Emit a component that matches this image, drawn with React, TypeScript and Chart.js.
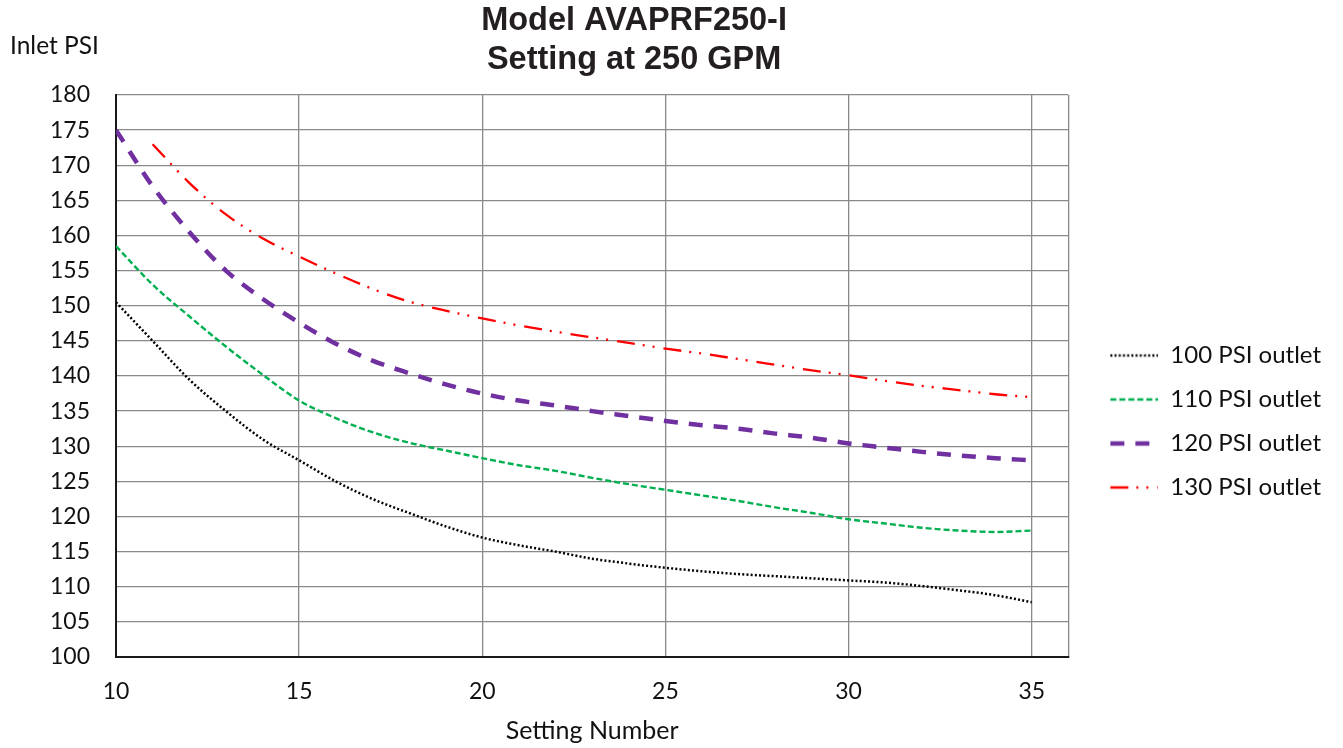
import { useEffect, useRef } from 'react';
import { Chart, registerables } from 'chart.js';

Chart.register(...registerables);

const settings = [10, 11, 12, 13, 14, 15, 16, 17, 18, 19, 20, 21, 22, 23, 24, 25, 26, 27, 28, 29, 30, 31, 32, 33, 34, 35];
const psi100 = [150.5, 145, 139.5, 135, 131, 128, 125, 122.5, 120.5, 118.6, 117, 115.9, 115, 114, 113.3, 112.7, 112.2, 111.8, 111.5, 111.2, 110.9, 110.6, 110.1, 109.5, 108.8, 107.8];
const psi110 = [158.5, 153, 148.5, 144.2, 140.2, 136.5, 134, 132, 130.5, 129.4, 128.3, 127.3, 126.5, 125.5, 124.6, 123.8, 123, 122.2, 121.3, 120.5, 119.6, 119, 118.4, 118, 117.8, 118];
const psi120 = [175, 167, 160.5, 155, 151, 147.6, 144.6, 142.2, 140.4, 138.8, 137.5, 136.5, 135.8, 135, 134.3, 133.6, 133, 132.5, 131.8, 131.2, 130.4, 129.8, 129.2, 128.7, 128.3, 128];
const psi130 = [null, 173, 167.5, 163, 159.6, 157, 154.6, 152.4, 150.6, 149.3, 148.2, 147.2, 146.3, 145.5, 144.7, 143.9, 143.2, 142.4, 141.6, 140.8, 140.1, 139.3, 138.6, 138, 137.4, 137];

const seriesLabels = ['100 PSI outlet', '110 PSI outlet', '120 PSI outlet', '130 PSI outlet'];
const seriesColors = ['#000000', '#00b050', '#7030a0', '#ff0000'];
const seriesWidths = [2.5, 2.4, 4.5, 2.3];
const seriesDashes = [[2, 2.2], [6, 3], [14, 11], [18, 8, 2, 8, 2, 9]];
const titleLines = ['Model AVAPRF250-I', 'Setting at 250 GPM'];
const yAxisTitle = 'Inlet PSI';
const xAxisTitle = 'Setting Number';
const xGridValues = [10, 15, 20, 25, 30, 35, 36];
const xTickLabels = [10, 15, 20, 25, 30, 35];

const FONT = 'Lato, "Liberation Sans", sans-serif';
const SAMPLE_LEN = 48;
const SAMPLE_LEAD = 22;

const headerPlugin = {
  id: 'headerText',
  afterDraw(chart: any) {
    const { ctx, chartArea } = chart;
    ctx.save();
    ctx.fillStyle = '#231f20';
    ctx.textAlign = 'center';
    ctx.textBaseline = 'middle';
    ctx.font = 'bold 32.5px "Liberation Sans", Arial, sans-serif';
    const cx = chartArea.left + (chartArea.right - chartArea.left) * 0.544;
    ctx.fillText(titleLines[0], cx, 21);
    ctx.fillText(titleLines[1], cx, 60);
    ctx.font = '24.5px ' + FONT;
    ctx.textAlign = 'left';
    ctx.fillStyle = '#111';
    ctx.fillText(yAxisTitle, 10, 46);
    ctx.restore();
  },
};

function makeSample(i: number) {
  const c = document.createElement('canvas');
  c.width = SAMPLE_LEAD + SAMPLE_LEN;
  c.height = 10;
  const g = c.getContext('2d')!;
  g.strokeStyle = seriesColors[i];
  g.lineWidth = seriesWidths[i];
  g.setLineDash(seriesDashes[i]);
  g.beginPath();
  g.moveTo(SAMPLE_LEAD, 5);
  g.lineTo(SAMPLE_LEAD + SAMPLE_LEN, 5);
  g.stroke();
  return c;
}

export default function App() {
  const ref = useRef<HTMLCanvasElement | null>(null);

  useEffect(() => {
    if (!ref.current) return;
    const samples = seriesLabels.map((_, i) => makeSample(i));
    const mk = (data: (number | null)[]) => settings.map((x, i) => ({ x, y: data[i] }));
    const series = [psi100, psi110, psi120, psi130];
    const chart = new Chart(ref.current, {
      type: 'line',
      data: {
        datasets: series.map((d, i) => ({
          label: seriesLabels[i],
          data: mk(d),
          borderColor: seriesColors[i],
          backgroundColor: seriesColors[i],
          borderWidth: seriesWidths[i],
          borderDash: seriesDashes[i],
        })) as any,
      },
      options: {
        responsive: false,
        animation: false,
        layout: { padding: { top: 95, left: 0, right: 12, bottom: 0 } },
        elements: { point: { radius: 0 }, line: { cubicInterpolationMode: 'monotone', fill: false } },
        plugins: {
          title: { display: false },
          tooltip: { enabled: false },
          legend: {
            position: 'right',
            labels: {
              usePointStyle: true,
              pointStyleWidth: SAMPLE_LEAD + SAMPLE_LEN,
              boxHeight: 20,
              padding: 20,
              color: '#111',
              font: { family: FONT, size: 24, lineHeight: 1.2 },
              generateLabels: (ch: any) => {
                const items = Chart.defaults.plugins.legend.labels.generateLabels(ch);
                items.forEach((it: any, i: number) => {
                  it.pointStyle = samples[i];
                });
                return items;
              },
            },
          },
        },
        scales: {
          x: {
            type: 'linear',
            min: 10,
            max: 36,
            afterBuildTicks: (axis: any) => {
              axis.ticks = xGridValues.map((value) => ({ value }));
            },
            afterFit: (axis: any) => {
              axis.height = 91;
            },
            ticks: {
              padding: 21,
              color: '#111',
              font: { family: FONT, size: 23 },
              autoSkip: false,
              maxRotation: 0,
              callback: (v: any) => (xTickLabels.includes(Number(v)) ? String(v) : ''),
            },
            grid: { color: '#8a8a8a', lineWidth: 1.3, drawTicks: false },
            border: { color: '#1a1a1a', width: 2 },
            title: { display: true, text: xAxisTitle, color: '#111', font: { family: FONT, size: 25 }, padding: { top: 0, bottom: 2 } },
          },
          y: {
            min: 100,
            max: 180,
            afterFit: (axis: any) => {
              axis.width = 116;
            },
            ticks: { stepSize: 5, padding: 26, color: '#111', font: { family: FONT, size: 23 } },
            grid: { color: '#8a8a8a', lineWidth: 1.3, drawTicks: false },
            border: { color: '#1a1a1a', width: 2 },
          },
        } as any,
      },
      plugins: [headerPlugin],
    });
    return () => chart.destroy();
  }, []);

  return (
    <div style={{ position: 'fixed', left: 0, top: 0, width: 1343, height: 748, background: '#fff' }}>
      <canvas ref={ref} width={1343} height={748} style={{ display: 'block' }} />
    </div>
  );
}
